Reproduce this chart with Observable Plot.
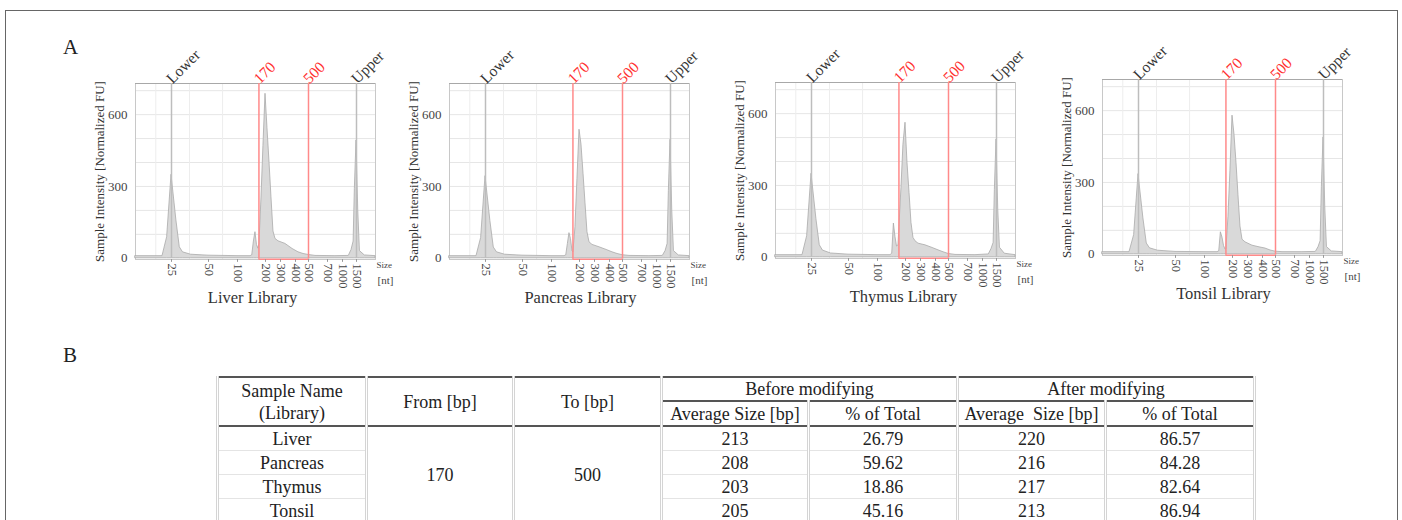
<!DOCTYPE html>
<html>
<head>
<meta charset="utf-8">
<script src="https://cdn.jsdelivr.net/npm/d3@7"></script>
<script src="https://cdn.jsdelivr.net/npm/@observablehq/plot@0.6"></script>
<style>
  body { margin: 0; background: #fff; }
  #wrap { position: relative; width: 1402px; height: 520px; overflow: hidden; background: #fff; font-family: "Liberation Serif", serif; }
  #border { position: absolute; left: 5px; top: 10px; width: 1393px; height: 560px; border: 1px solid #666; box-sizing: border-box; }
  .lab { position: absolute; font-size: 21px; color: #222; line-height: 1; }
  .panel { position: absolute; }
  #tbl { position: absolute; left: 216px; top: 376px; width: 1037px; border-collapse: collapse; table-layout: fixed;
         font-family: "Liberation Serif", serif; font-size: 18px; color: #222; border-top: 2px solid #555; }
  #tbl th, #tbl td { font-weight: normal; text-align: center; padding: 0; border-left: 3px double #d4d4d4; border-right: 3px double #d4d4d4; }
  #tbl th { line-height: 22px; }
  #tbl tr.h1 th { height: 21px; }
  #tbl tr.h2 th { height: 23px; border-bottom: 2px solid #555; }
  #tbl th.grp { border-bottom: 2px solid #555; }
  #tbl th.span2 { border-bottom: 2px solid #555; }
  #tbl td { height: 23px; line-height: 22px; border-bottom: 1px solid #e4e4e4; }
</style>
</head>
<body>
<div id="wrap">
  <div id="border"></div>
  <div class="lab" style="left:63px;top:37px;">A</div>
  <div class="lab" style="left:63px;top:345px;">B</div>
</div>
<script>
// ---------------- data ----------------
const samples = ["Liver", "Pancreas", "Thymus", "Tonsil"];
const sizes = [15, 22, 23.5, 25, 27.4, 29.2, 31, 36, 50, 100,
               138, 144, 150, 156, 162, 168, 172, 181, 190, 200,
               211, 223, 235, 248, 262, 284, 330, 378, 421, 459,
               500, 566, 846, 1200, 1300, 1380, 1430, 1500, 1540, 1580,
               1700, 2000];
const liverFU = [9, 9, 88, 349, 158, 46, 25, 15, 11, 9,
                 9, 12, 70, 109, 55, 40, 60, 250, 468, 687,
                 543, 400, 255, 112, 81, 71, 60, 39, 25, 18,
                 14, 10, 9, 10, 35, 70, 290, 492, 200, 30,
                 12, 9];
const pancreasFU = [9, 9, 85, 343, 155, 45, 25, 15, 11, 9,
                    9, 12, 60, 105, 80, 30, 25, 130, 330, 537,
                    475, 353, 232, 109, 67, 56, 46, 35, 25, 18,
                    13, 10, 9, 10, 30, 60, 280, 495, 200, 30,
                    12, 9];
const thymusFU = [9, 9, 88, 349, 160, 50, 28, 16, 11, 9,
                  9, 15, 141, 85, 45, 50, 127, 290, 470, 562,
                  395, 269, 144, 81, 67, 57, 50, 39, 29, 21,
                  14, 10, 9, 12, 35, 60, 280, 492, 200, 40,
                  15, 9];
const tonsilFU = [9, 9, 80, 335, 150, 45, 25, 15, 10, 9,
                  9, 12, 92, 70, 35, 20, 20, 157, 349, 579,
                  500, 380, 247, 116, 61, 50, 36, 29, 24, 16,
                  11, 9, 9, 10, 30, 55, 280, 488, 200, 30,
                  12, 9];
const seriesFU = [liverFU, pancreasFU, thymusFU, tonsilFU];
const xTicks = [25, 50, 100, 200, 300, 400, 500, 700, 1000, 1500];
const yTicks = [0, 300, 600];
const yGrid = [100, 200, 300, 400, 500, 600, 700];
const xGrid = [20, 35, 70];
const markerSizes = [25, 1500];
const markerLabels = ["Lower", "Upper"];
const gateBp = [170, 500];
const yTitle = "Sample Intensity [Normalized FU]";
const sizeUnit = ["Size", "[nt]"];

// table B
const fromBp = 170, toBp = 500;
const beforeAvg = [213, 208, 203, 205];
const beforePct = ["26.79", "59.62", "18.86", "45.16"];
const afterAvg = [220, 216, 217, 213];
const afterPct = ["86.57", "84.28", "82.64", "86.94"];

// ---------------- layout ----------------
const xAnchorSizes = [15, 25, 50, 100, 200, 300, 400, 500, 700, 1000, 1500, 2000];
const xAnchorPx = [0, 36, 73, 102, 130, 145, 160, 173, 192, 207, 221, 240];
const M = {left: 80, top: 60, right: 30, bottom: 50};
const panelPos = [
  {left: 55, top: 23, titleDx: -3},
  {left: 369, top: 23, titleDx: 11},
  {left: 695, top: 22, titleDx: 8},
  {left: 1022, top: 19, titleDx: 1}
];
const red = "#ff3030";
const redLine = "#ff8a8a";

const wrap = document.getElementById("wrap");

samples.forEach((s, k) => {
  const data = sizes.map((x, i) => ({size: x, fu: seriesFU[k][i]}));
  const topLabels = [
    {size: markerSizes[0], label: markerLabels[0], c: "#333"},
    {size: gateBp[0], label: String(gateBp[0]), c: red},
    {size: gateBp[1], label: String(gateBp[1]), c: red},
    {size: markerSizes[1], label: markerLabels[1], c: "#333"}
  ];
  const svg = Plot.plot({
    width: M.left + 240 + M.right,
    height: M.top + 176 + M.bottom,
    marginLeft: M.left, marginTop: M.top, marginRight: M.right, marginBottom: M.bottom,
    style: {background: "transparent", fontFamily: "'Liberation Serif', serif", fontSize: "12.5px", color: "#444", overflow: "visible"},
    x: {type: "log", domain: xAnchorSizes, range: xAnchorPx.map(p => M.left + p), label: null, axis: null},
    y: {domain: [-5, 730], label: null},
    marks: [
      Plot.gridY(yGrid, {stroke: "#e6e6e6", strokeOpacity: 1}),
      Plot.gridX(xGrid, {stroke: "#ededed", strokeOpacity: 1}),
      Plot.frame({stroke: "#c8c8c8"}),
      Plot.ruleY([730], {stroke: "#a8a8a8"}),
      Plot.areaY(data, {x: "size", y: "fu", fill: "#d9d9d9", stroke: "#a9a9a9", strokeWidth: 0.8}),
      Plot.ruleX(markerSizes, {y1: 0, y2: 730, stroke: "#bdbdbd", strokeWidth: 1.5}),
      Plot.ruleX(gateBp, {y1: -4, y2: 730, stroke: redLine, strokeWidth: 1.5}),
      Plot.ruleY([-4], {x1: gateBp[0], x2: gateBp[1], stroke: redLine, strokeWidth: 1.5}),
      Plot.text(topLabels, {x: "size", text: "label", fill: "c", frameAnchor: "top", rotate: -45,
        textAnchor: "start", lineAnchor: "bottom", dy: 1, dx: 1, fontSize: 15.5}),
      // x ticks and rotated tick labels
      Plot.ruleX(xTicks, {y1: -5, y2: -17, stroke: "#999"}),
      Plot.text(xTicks, {x: d => d, text: d => String(d), frameAnchor: "bottom", rotate: 90,
        textAnchor: "start", lineAnchor: "middle", dy: 4, fontSize: 12.5, fill: "#444"}),
      Plot.axisY(yTicks, {tickSize: 0, tickPadding: 8, tickFormat: d => String(d), fontSize: 13, label: null, fill: "#444"}),
      Plot.text([yTitle], {frameAnchor: "left", rotate: -90, textAnchor: "middle", lineAnchor: "middle", dx: -36, fontSize: 13, fill: "#333"}),
      Plot.text([s + " Library"], {frameAnchor: "bottom", textAnchor: "middle", lineAnchor: "middle", dy: 38, dx: panelPos[k].titleDx, fontSize: 16.5, fill: "#333"}),
      Plot.text([sizeUnit[0]], {frameAnchor: "bottom-right", textAnchor: "start", lineAnchor: "middle", dx: 1, dy: 6, fontSize: 9, fill: "#444"}),
      Plot.text([sizeUnit[1]], {frameAnchor: "bottom-right", textAnchor: "start", lineAnchor: "middle", dx: 2, dy: 21, fontSize: 11, fill: "#444"})
    ]
  });
  const div = document.createElement("div");
  div.className = "panel";
  div.style.left = panelPos[k].left + "px";
  div.style.top = panelPos[k].top + "px";
  div.appendChild(svg);
  wrap.appendChild(div);
});

// ---------------- table ----------------
const tbl = document.createElement("table");
tbl.id = "tbl";
const colW = [149, 147, 148, 147, 149, 148, 149];
let html = "<colgroup>" + colW.map(w => `<col style="width:${w}px">`).join("") + "</colgroup>";
html += `<tr class="h1"><th rowspan="2" class="span2">Sample Name<br>(Library)</th><th rowspan="2" class="span2">From [bp]</th><th rowspan="2" class="span2">To [bp]</th>` +
        `<th colspan="2" class="grp">Before modifying</th><th colspan="2" class="grp">After modifying</th></tr>`;
html += `<tr class="h2"><th>Average Size [bp]</th><th>% of Total</th><th>Average&nbsp; Size [bp]</th><th>% of Total</th></tr>`;
samples.forEach((s, i) => {
  html += "<tr>";
  html += `<td>${s}</td>`;
  if (i === 0) html += `<td rowspan="${samples.length}">${fromBp}</td><td rowspan="${samples.length}">${toBp}</td>`;
  html += `<td>${beforeAvg[i]}</td><td>${beforePct[i]}</td><td>${afterAvg[i]}</td><td>${afterPct[i]}</td>`;
  html += "</tr>";
});
tbl.innerHTML = html;
wrap.appendChild(tbl);
</script>
</body>
</html>
